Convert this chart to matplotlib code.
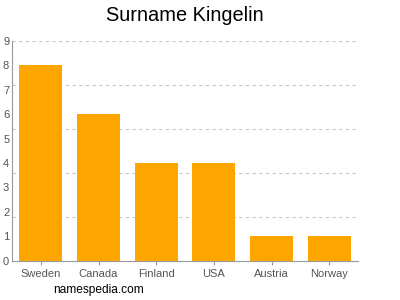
import numpy as np
import matplotlib
matplotlib.use("Agg")
import matplotlib.pyplot as plt

countries = ["Sweden", "Canada", "Finland", "USA", "Austria", "Norway"]
counts = [8, 6, 4, 4, 1, 1]
y_labels = list(range(0, 10))

plt.rcParams["font.family"] = ["Liberation Sans", "DejaVu Sans"]

fig = plt.figure(figsize=(4, 3), dpi=100)
ax = fig.add_axes([0.03, 0.131, 0.865, 0.733])

x = np.arange(len(countries))
ax.bar(x, counts, width=0.745, color="#FFA500", zorder=2)

ax.set_xlim(-0.5, len(countries) - 0.5)
ax.set_ylim(0, 9)

# gridlines sit on a 5-step grid, labels on integers
grid_vals = np.linspace(0, 9, 6)[1:]
for g in grid_vals:
    ax.axhline(g, color="#c8c8c8", linestyle=(0, (3, 3)), linewidth=0.8, zorder=1)

ax.set_yticks(y_labels)
ax.set_yticklabels([str(v) for v in y_labels], color="#555555", fontsize=8)
ax.tick_params(axis="y", length=0, pad=2)
ax.set_xticks(x)
ax.set_xticklabels(countries, color="#555555", fontsize=8)
ax.tick_params(axis="x", length=3, color="#999999", pad=3)

for side in ["top", "right"]:
    ax.spines[side].set_visible(False)
for side in ["left", "bottom"]:
    ax.spines[side].set_color("#999999")
    ax.spines[side].set_linewidth(0.8)

ax.set_title("Surname Kingelin", fontsize=14.4, pad=14)
fig.text(0.132, 0.033, "namespedia.com", ha="left", va="center", fontsize=8.6)

fig.savefig("out.png", dpi=100)
